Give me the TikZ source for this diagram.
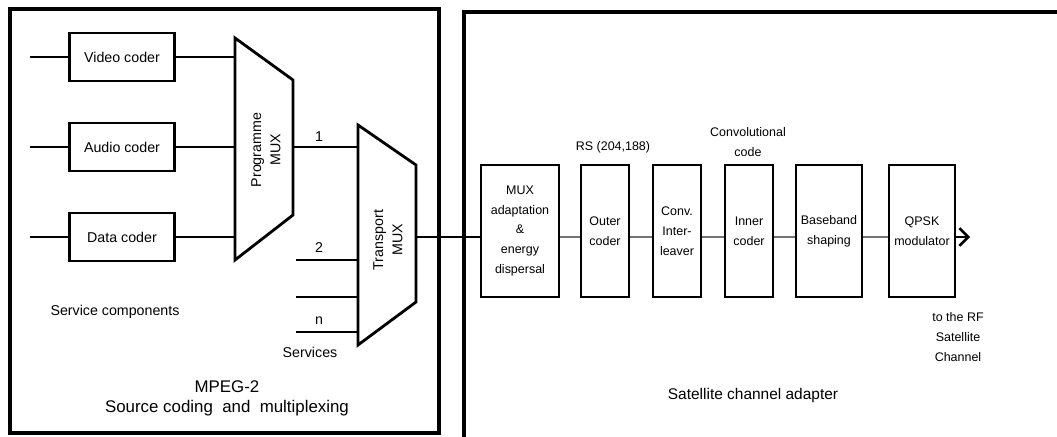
\documentclass[tikz,border=0pt]{standalone}
\usepackage{fontspec}
\setmainfont{Liberation Sans}
\usetikzlibrary{positioning, arrows.meta}
\newcommand{\smalltxt}{\fontsize{8.1}{11}\selectfont}
\newcommand{\tinytxt}{\fontsize{7.1}{11.3}\selectfont}
\newcommand{\bigtxt}{\fontsize{9.6}{12}\selectfont}
\tikzset{
	blk/.style={draw, line width=1.6pt, inner sep=0pt, align=center, font=\smalltxt},
	chainblk/.style={blk, font=\tinytxt, minimum height=2.64cm}
}
\tikzset{
	lbl/.style={inner sep=0pt, align=center, font=\smalltxt},
	tinylbl/.style={inner sep=0pt, align=center, font=\tinytxt},
	biglbl/.style={inner sep=0pt, align=center, font=\bigtxt}
}
\tikzset{
	wire/.style={line width=0.6pt},
	graywire/.style={line width=0.6pt, black!55},
	frame/.style={line width=2pt},
	muxshape/.style={line width=1.6pt, line join=miter}
}

\begin{document}
\begin{tikzpicture}[x=0.02cm, y=-0.02cm]
      \useasboundingbox (0,0) rectangle (1057,436);
      \clip (0,0) rectangle (1057,436);
      % frames
      \draw[frame] (10,9) rectangle (439,433);
      \draw[frame] (1080,12) -- (464,12) -- (464,460);

      % source coders
      \node[blk, minimum width=2.1cm, minimum height=0.96cm] (video) at (122,57) {Video coder};
      \node[blk, minimum width=2.1cm, minimum height=0.96cm] (audio) at (122,147) {Audio coder};
      \node[blk, minimum width=2.1cm, minimum height=0.96cm] (data) at (122,237) {Data coder};
      \coordinate (vin) at (30,57);
      \coordinate (ain) at (30,147);
      \coordinate (din) at (30,237);
      \draw[wire] (vin) -- (video);
      \draw[wire] (ain) -- (audio);
      \draw[wire] (din) -- (data);

      % programme mux
      \draw[muxshape] (235,38) -- (293,80) -- (293,215) -- (235,260) -- cycle;
      \node[lbl, rotate=90] (progmux) at (266,150) {Programme\\MUX};
      \coordinate (pmv) at (235,57);
      \coordinate (pma) at (235,147);
      \coordinate (pmd) at (235,237);
      \coordinate (pmo) at (293,147);
      \draw[wire] (video) -- (pmv);
      \draw[wire] (audio) -- (pma);
      \draw[wire] (data) -- (pmd);

      % transport mux
      \draw[muxshape] (358,125) -- (416,165) -- (416,302) -- (358,345) -- cycle;
      \node[lbl, rotate=90] (trmux) at (388,240) {Transport\\MUX};
      \coordinate (tm1) at (358,147);
      \coordinate (tm2) at (358,260);
      \coordinate (tm3) at (358,297);
      \coordinate (tmn) at (358,332);
      \coordinate (tmo) at (416,237);
      \coordinate (sv2) at (296,260);
      \coordinate (sv3) at (296,297);
      \coordinate (svn) at (296,332);
      \draw[wire] (pmo) -- (tm1);
      \draw[wire] (sv2) -- (tm2);
      \draw[wire] (sv3) -- (tm3);
      \draw[wire] (svn) -- (tmn);
      \node[lbl] (one) at (319,137) {1};
      \node[lbl] (two) at (319,248) {2};
      \node[lbl] (enn) at (319,321) {n};
      \node[lbl] (services) at (310,352) {Services};
      \node[lbl] (servcomp) at (115,312) {Service components};
      \node[biglbl] (mpeg) at (227,387) {MPEG-2};
      \node[biglbl] (srccod) at (227,408) {Source coding\ \ and\ \ multiplexing};

      % satellite channel adapter
      \node[chainblk, minimum width=1.56cm] (madapt) at (520,231) {MUX\\adaptation\\\&\\energy\\dispersal};
      \node[chainblk, minimum width=0.96cm] (outer) at (605,231) {Outer\\coder};
      \node[chainblk, minimum width=0.96cm] (inter) at (677,231) {Conv.\\Inter-\\leaver};
      \node[chainblk, minimum width=0.96cm] (inner) at (749,231) {Inner\\coder};
      \node[chainblk, minimum width=1.32cm] (base) at (829,231) {Baseband\\shaping};
      \node[chainblk, minimum width=1.32cm] (qpsk) at (922,231) {QPSK\\modulator};
      \coordinate (rfout) at (970,237);
      \draw[wire] (tmo) -- (madapt.west |- tmo);
      \draw[graywire] (madapt.east |- tmo) -- (outer.west |- tmo);
      \draw[graywire] (outer.east |- tmo) -- (inter.west |- tmo);
      \draw[graywire] (inter.east |- tmo) -- (inner.west |- tmo);
      \draw[graywire] (inner.east |- tmo) -- (base.west |- tmo);
      \draw[graywire] (base.east |- tmo) -- (qpsk.west |- tmo);
      \draw[wire, -{Straight Barb[length=5pt, width=10pt, line width=1.5pt]}] (qpsk.east |- tmo) -- (rfout);
      \node[tinylbl] (rslbl) at (613,147) {RS (204,188)};
      \node[tinylbl] (convlbl) at (748,142) {Convolutional\\code};
      \node[tinylbl] (rflbl) at (958,337) {to the RF\\Satellite\\Channel};
      \node[biglbl, font=\fontsize{8.8}{11}\selectfont] (satlbl) at (753,395) {Satellite channel adapter};
    \end{tikzpicture}
\end{document}
